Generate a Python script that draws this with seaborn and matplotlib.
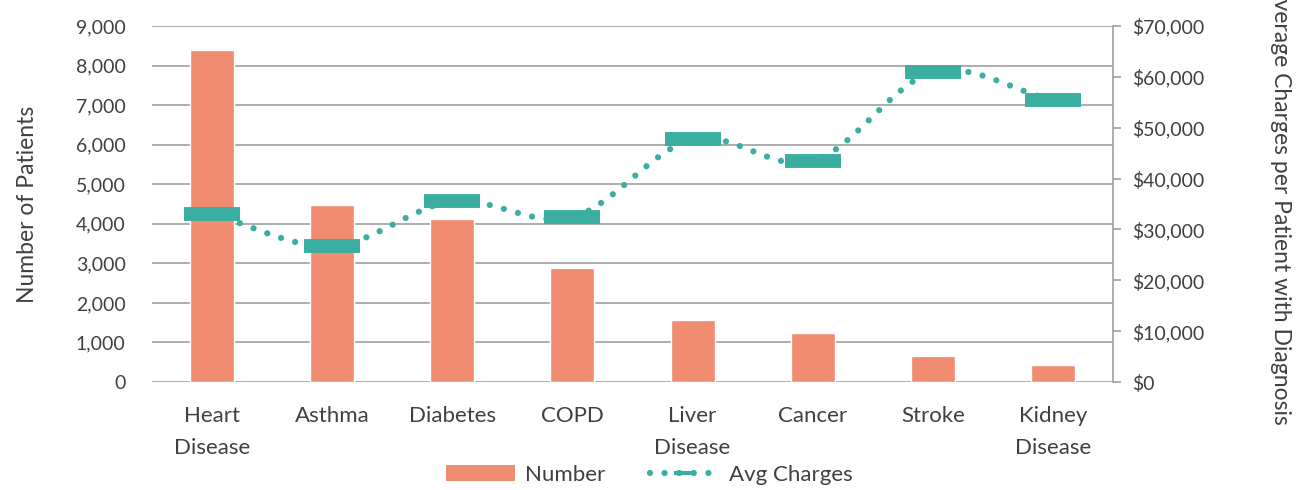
import numpy as np
import pandas as pd
import matplotlib
matplotlib.use("Agg")
import matplotlib.pyplot as plt
from matplotlib.patches import Patch
from matplotlib.lines import Line2D
from matplotlib.ticker import FuncFormatter, MultipleLocator
import seaborn as sns

categories = ["Heart\nDisease", "Asthma", "Diabetes", "COPD", "Liver\nDisease",
              "Cancer", "Stroke", "Kidney\nDisease"]
patients = [8400, 4480, 4130, 2890, 1570, 1250, 660, 430]
avg_charges = [33000, 26700, 35500, 32400, 47700, 43400, 60900, 55400]

BAR = "#F08C70"
TEAL = "#3AAEA0"
TXT = "#404040"
GRID = "#A0A0A0"

sns.set_theme(style="white")
plt.rcParams["font.family"] = ["Lato", "DejaVu Sans"]
plt.rcParams["lines.scale_dashes"] = False

fig = plt.figure(figsize=(12.99, 4.90), dpi=100)
ax = fig.add_axes([152/1299, 1-382/490, (1113-152)/1299, (382-26)/490])

df = pd.DataFrame({"cat": categories, "n": patients})
sns.barplot(data=df, x="cat", y="n", color=BAR, saturation=1, width=0.367, ax=ax, zorder=2)

ax.set_xlim(-0.5, 7.5)
ax.set_ylim(0, 9000)
ax.yaxis.set_major_locator(MultipleLocator(1000))
ax.yaxis.set_major_formatter(FuncFormatter(lambda v, p: f"{int(v):,}"))
ax.grid(axis="y", color=GRID, lw=1.2, zorder=0)
ax.set_axisbelow(True)
for s in ["left", "top", "right", "bottom"]:
    ax.spines[s].set_visible(False)
ax.tick_params(axis="y", length=0, labelsize=14, labelcolor=TXT, pad=19)
ax.tick_params(axis="x", length=0, labelsize=16, labelcolor=TXT, pad=17)
for lab in ax.get_xticklabels():
    lab.set_linespacing(1.75)
    lab.set_verticalalignment("top")
ax.set_xlabel("")
ax.set_ylabel("Number of Patients", fontsize=16.5, color=TXT, labelpad=27)

ax2 = ax.twinx()
ax2.set_ylim(0, 70000)
ax2.yaxis.set_major_locator(MultipleLocator(10000))
ax2.yaxis.set_major_formatter(FuncFormatter(lambda v, p: f"${int(v):,}"))
for s in ["left", "top", "bottom"]:
    ax2.spines[s].set_visible(False)
ax2.spines["right"].set_color(GRID)
ax2.spines["right"].set_linewidth(1.2)
ax2.tick_params(axis="y", length=6, width=1.2, color=GRID, labelsize=14, labelcolor=TXT, pad=8)
ax2.set_ylabel("Average Charges per Patient with Diagnosis", fontsize=16.5, color=TXT,
               rotation=270, labelpad=47, va="bottom")

# Catmull-Rom smoothing for the dotted connecting line
xs = np.arange(len(avg_charges), dtype=float)
ys = np.array(avg_charges, dtype=float)
px = np.concatenate([[2*xs[0]-xs[1]], xs, [2*xs[-1]-xs[-2]]])
py = np.concatenate([[2*ys[0]-ys[1]], ys, [2*ys[-1]-ys[-2]]])
cx, cy = [], []
t = np.linspace(0, 1, 40)
for i in range(1, len(px)-2):
    p0, p1, p2, p3 = [(px[j], py[j]) for j in (i-1, i, i+1, i+2)]
    for k, (a0, a1, a2, a3) in enumerate(zip(p0, p1, p2, p3)):
        v = 0.5*((2*a1) + (-a0 + a2)*t + (2*a0 - 5*a1 + 4*a2 - a3)*t**2 + (-a0 + 3*a1 - 3*a2 + a3)*t**3)
        (cx if k == 0 else cy).extend(v[:-1] if i < len(px)-3 else v)
ax2.plot(cx, cy, color=TEAL, lw=4.5, linestyle=(0, (0.01, 10.5)), dash_capstyle="round", zorder=3)
ax2.plot(xs, ys, linestyle="none", marker="_", ms=40, mew=10, color=TEAL, zorder=4)

handles = [Patch(facecolor=BAR, edgecolor="none", label="Number"),
           Line2D([0], [0], color=TEAL, lw=4.5, linestyle=(0, (0.01, 10.5)), dash_capstyle="round",
                  marker="_", ms=14, mew=3, label="Avg Charges")]
fig.legend(handles=handles, loc="center", bbox_to_anchor=(0.5, 1-475/490), ncol=2, frameon=False,
           fontsize=16, handlelength=3.1, handleheight=0.7, columnspacing=2.0, handletextpad=0.45,
           labelcolor=TXT)

fig.savefig("out.png", dpi=100)
